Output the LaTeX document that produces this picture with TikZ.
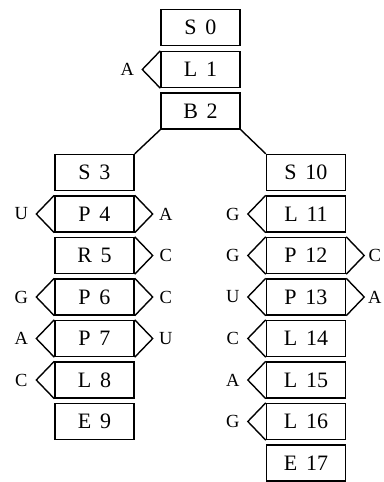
\documentclass[tikz,border=0pt]{standalone}
\usepackage{fontspec}
\setmainfont{Liberation Serif}
\usetikzlibrary{calc}
\newcommand\gap{\hspace{0.4em}}
\tikzset{
  box/.style={draw, line width=1.4pt, minimum width=79pt, minimum height=36pt, inner sep=0pt,
    font=\fontsize{22}{26}\selectfont},
  tabline/.style={line width=1.4pt, line join=miter},
  lab/.style={inner sep=0pt, font=\fontsize{18.5}{22}\selectfont},
  conn/.style={line width=1.4pt}
}
\newcommand\lefttab[2]{%
  \draw[tabline] (#1.north west) -- ($(#1.west)+(-18,0)$) -- (#1.south west);
  \node[lab] (#1l) at ($(#1.west)+(-33,0)$) {#2};}
\newcommand\righttab[2]{%
  \draw[tabline] (#1.north east) -- ($(#1.east)+(18,0)$) -- (#1.south east);
  \node[lab] (#1r) at ($(#1.east)+(31,0)$) {#2};}
\newcommand\righttabb[2]{%
  \draw[tabline] (#1.north east) -- ($(#1.east)+(18,0)$) -- (#1.south east);
  \node[lab] (#1r) at ($(#1.east)+(28.5,0)$) {#2};}
\begin{document}
\begin{tikzpicture}[x=1pt,y=-1pt]
\useasboundingbox (0,0) rectangle (383,482);
% top column
\node[box] (S0) at (200.5,27.5) {S\gap 0};
\node[box] (L1) at (200.5,69.5) {L\gap 1};
\node[box] (B2) at (200.5,111) {B\gap 2};
% left column
\node[box] (S3) at (94.5,172.5) {S\gap 3};
\node[box] (P4) at (94.5,214) {P\gap 4};
\node[box] (R5) at (94.5,255.5) {R\gap 5};
\node[box] (P6) at (94.5,297) {P\gap 6};
\node[box] (P7) at (94.5,338.5) {P\gap 7};
\node[box] (L8) at (94.5,380) {L\gap 8};
\node[box] (E9) at (94.5,421.5) {E\gap 9};
% right column
\node[box] (S10) at (306,172.5) {S\gap 10};
\node[box] (L11) at (306,214) {L\gap 11};
\node[box] (P12) at (306,255.5) {P\gap 12};
\node[box] (P13) at (306,297) {P\gap 13};
\node[box] (L14) at (306,338.5) {L\gap 14};
\node[box] (L15) at (306,380) {L\gap 15};
\node[box] (L16) at (306,421.5) {L\gap 16};
\node[box] (E17) at (306,463) {E\gap 17};
% connectors
\draw[conn] (B2.south west) -- (S3.north east);
\draw[conn] (B2.south east) -- (S10.north west);
% tabs
\lefttab{L1}{A}
\lefttab{P4}{U}\righttab{P4}{A}
\righttab{R5}{C}
\lefttab{P6}{G}\righttab{P6}{C}
\lefttab{P7}{A}\righttab{P7}{U}
\lefttab{L8}{C}
\lefttab{L11}{G}
\lefttab{P12}{G}\righttabb{P12}{C}
\lefttab{P13}{U}\righttabb{P13}{A}
\lefttab{L14}{C}
\lefttab{L15}{A}
\lefttab{L16}{G}
\end{tikzpicture}
\end{document}
